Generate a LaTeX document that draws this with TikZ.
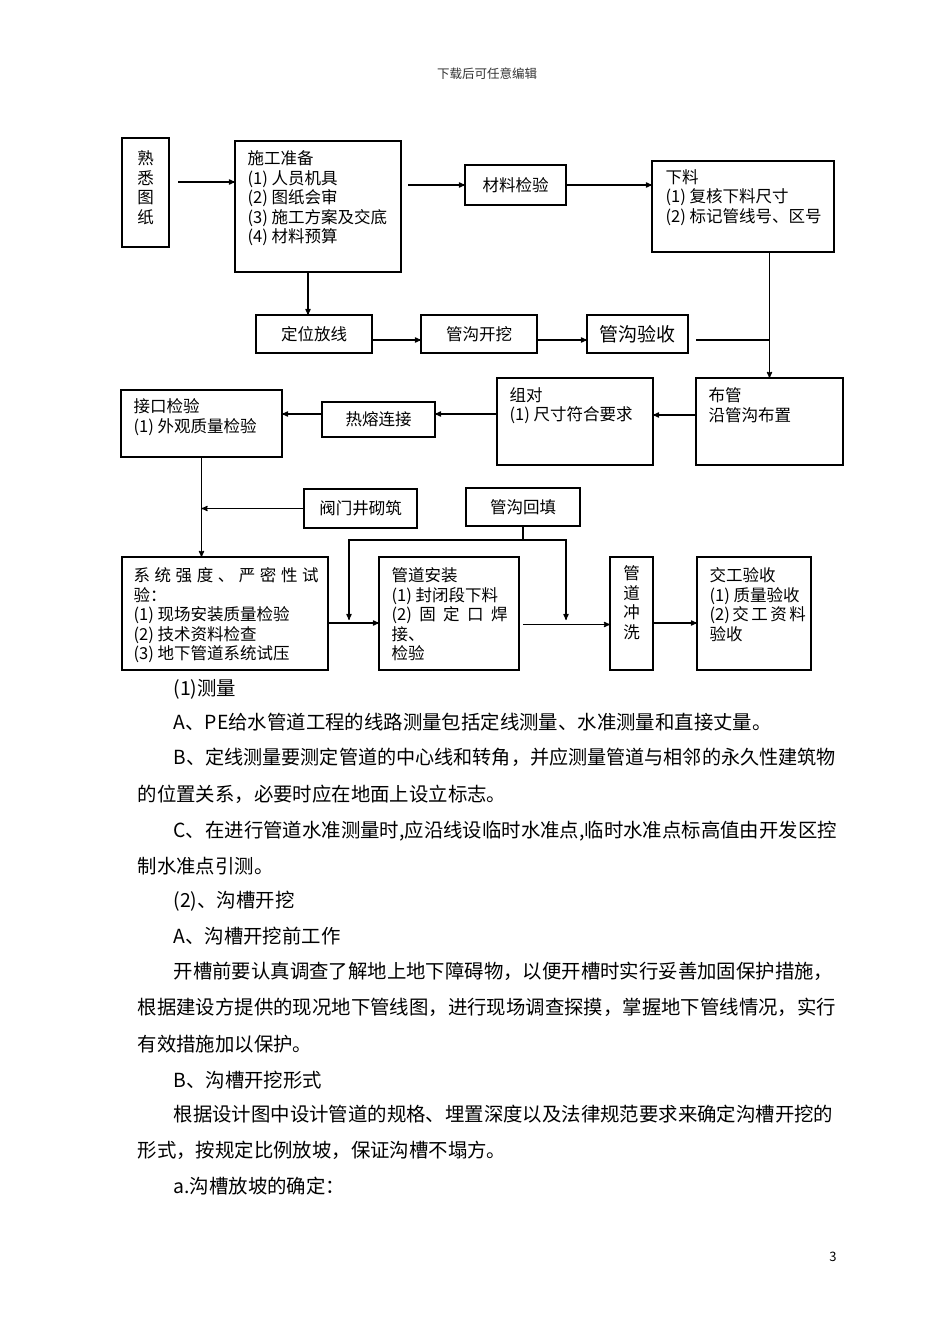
\documentclass[tikz,border=0pt]{standalone}
\usepackage{fontspec}
\usepackage{graphicx}
\setmainfont{Noto Sans CJK SC}
\usetikzlibrary{positioning,arrows}

\newcommand{\flowfont}{\fontsize{16.5}{19.5}\selectfont}
\newcommand{\bodyfont}{\fontsize{19.4}{24}\selectfont}

\begin{document}
\begin{tikzpicture}[x=1pt, y=-1pt, line width=1.2pt, >=stealth']
    \tikzstyle{box}=[draw, anchor=north west, inner sep=0pt, outer sep=0pt]
    \tikzstyle{boxtext}=[anchor=north west, inner sep=0pt, align=left, font=\flowfont]
    \tikzstyle{midtext}=[inner sep=0pt, font=\flowfont]
    \tikzstyle{edge}=[->]
    \tikzstyle{link}=[-]
    \tikzstyle{para}=[anchor=base west, inner sep=0pt, font=\bodyfont]

    \fill[white] (0,0) rectangle (950,1344);
    \useasboundingbox (0,0) rectangle (950,1344);

    \node[inner sep=0pt, font=\fontsize{12.5}{14}\selectfont, text=black!80] (header) at (487,74) {下载后可任意编辑};

    % first row
    \node[box, minimum width=47pt, minimum height=109pt] (read) at (122,138) {};
    \node[boxtext, anchor=north, align=center] (readtxt) at (145.5,150) {熟\\悉\\图\\纸};
    \node[box, minimum width=166pt, minimum height=131pt] (prep) at (235,141) {};
    \node[boxtext] (preptxt) at (247,150) {施工准备\\(1) 人员机具\\(2) 图纸会审\\(3) 施工方案及交底\\(4) 材料预算};
    \node[box, minimum width=101pt, minimum height=40pt] (matcheck) at (465,165) {};
    \node[midtext] (matchecktxt) at (matcheck.center) {材料检验};
    \node[box, minimum width=182pt, minimum height=91pt] (cut) at (652,161) {};
    \node[boxtext] (cuttxt) at (665,169) {下料\\(1) 复核下料尺寸\\(2) 标记管线号、区号};

    % second row
    \node[box, minimum width=116pt, minimum height=38pt] (layout) at (256,315) {};
    \node[midtext] (layouttxt) at (layout.center) {定位放线};
    \node[box, minimum width=116pt, minimum height=38pt] (dig) at (421,315) {};
    \node[midtext] (digtxt) at (dig.center) {管沟开挖};
    \node[box, minimum width=101pt, minimum height=38pt] (digcheck) at (587,315) {};
    \node[midtext, font=\fontsize{19}{22}\selectfont] (digchecktxt) at (digcheck.center) {管沟验收};

    % third row
    \node[box, minimum width=161pt, minimum height=67pt] (joint) at (121,390) {};
    \node[boxtext] (jointtxt) at (133,398) {接口检验\\(1) 外观质量检验};
    \node[box, minimum width=113pt, minimum height=35pt] (fuse) at (322,402) {};
    \node[midtext] (fusetxt) at (fuse.center) {热熔连接};
    \node[box, minimum width=156pt, minimum height=87pt] (pair) at (497,378) {};
    \node[boxtext] (pairtxt) at (509,387) {组对\\(1) 尺寸符合要求};
    \node[box, minimum width=147pt, minimum height=87pt] (lay) at (696,378) {};
    \node[boxtext] (laytxt) at (708,387) {布管\\沿管沟布置};

    % fourth row
    \node[box, minimum width=113pt, minimum height=39pt] (valve) at (304,489) {};
    \node[midtext] (valvetxt) at (valve.center) {阀门井砌筑};
    \node[box, minimum width=114pt, minimum height=38pt] (backfill) at (466,488) {};
    \node[midtext] (backfilltxt) at (backfill.center) {管沟回填};
    \node[box, minimum width=206pt, minimum height=113pt] (test) at (122,557) {};
    \node[boxtext] (testtxt) at (133,567) {\makebox[185pt][s]{系 统 强 度 、 严 密 性 试}\\验：\\(1) 现场安装质量检验\\(2) 技术资料检查\\(3) 地下管道系统试压};
    \node[box, minimum width=140pt, minimum height=113pt] (install) at (379,557) {};
    \node[boxtext] (installtxt) at (391,567) {管道安装\\(1) 封闭段下料\\\makebox[116pt][s]{(2) 固 定 口 焊}\\接、\\检验};
    \node[box, minimum width=43pt, minimum height=113pt] (flush) at (610,557) {};
    \node[boxtext, anchor=north, align=center] (flushtxt) at (631.5,565) {管\\道\\冲\\洗};
    \node[box, minimum width=114pt, minimum height=113pt] (accept) at (697,557) {};
    \node[boxtext] (accepttxt) at (709,567) {交工验收\\(1) 质量验收\\\makebox[88pt][s]{(2) 交 工 资 料}\\验收};

    \coordinate (fork) at (523,540);
    \coordinate (dropL) at (349,620);
    \coordinate (dropR) at (566,620);

    % connectors
    \draw[edge, shorten <=9pt] ([yshift=10.5pt]read.east) -- ([yshift=10.5pt]read.east -| prep.west);
    \draw[edge, shorten <=7pt] (matcheck.west -| prep.east) -- (matcheck.west);
    \draw[edge] (matcheck.east) -- (matcheck.east -| cut.west);
    \draw[edge] ([xshift=-6pt]layout.north |- prep.south) -- ([xshift=-6pt]layout.north);
    \draw[edge] ([yshift=-6pt]layout.east) -- ([yshift=-6pt]layout.east -| dig.west);
    \draw[edge] ([yshift=-6pt]dig.east) -- ([yshift=-6pt]dig.east -| digcheck.west);
    \draw[link, shorten <=8pt] ([yshift=-6pt]digcheck.east) -- ([yshift=-6pt]digcheck.east -| lay.north);
    \draw[edge] (cut.south -| lay.north) -- (lay.north);
    \draw[edge] ([yshift=6.5pt]lay.west) -- ([yshift=6.5pt]lay.west -| pair.east);
    \draw[edge] ([yshift=7.5pt]pair.west) -- ([yshift=7.5pt]pair.west -| fuse.east);
    \draw[edge] ([yshift=5.5pt]fuse.west) -- ([yshift=5.5pt]fuse.west -| joint.east);
    \draw[edge] (joint.south) -- (joint.south |- test.north);
    \draw[edge] (valve.west) -- (valve.west -| joint.south);
    \draw[link] (backfill.south) -- (fork);
    \draw[edge] (fork) -| (dropL);
    \draw[edge] (fork) -| (dropR);
    \draw[edge] ([yshift=-9.5pt]test.east) -- ([yshift=-9.5pt]test.east -| install.west);
    \draw[edge, shorten <=4pt] ([yshift=-11pt]install.east) -- ([yshift=-11pt]install.east -| flush.west);
    \draw[edge] ([yshift=-9.5pt]flush.east) -- ([yshift=-9.5pt]flush.east -| accept.west);

    % body text
    \node[para] (p1) at (173,695.5) {(1)测量};
    \node[para] (p2) at (173,729.5) {A、PE给水管道工程的线路测量包括定线测量、水准测量和直接丈量。};
    \node[para] (p3) at (173,764.5) {\scalebox{0.985}[1]{B、定线测量要测定管道的中心线和转角，并应测量管道与相邻的永久性建筑物}};
    \node[para] (p4) at (137,801.5) {的位置关系，必要时应在地面上设立标志。};
    \node[para] (p5) at (173,837.5) {C、在进行管道水准测量时,应沿线设临时水准点,临时水准点标高值由开发区控};
    \node[para] (p6) at (137,873.5) {制水准点引测。};
    \node[para] (p7) at (173,907.5) {(2)、沟槽开挖};
    \node[para] (p8) at (173,943.5) {A、沟槽开挖前工作};
    \node[para] (p9) at (173,978.5) {开槽前要认真调查了解地上地下障碍物，以便开槽时实行妥善加固保护措施，};
    \node[para] (p10) at (137,1014.5) {根据建设方提供的现况地下管线图，进行现场调查探摸，掌握地下管线情况，实行};
    \node[para] (p11) at (137,1051.5) {有效措施加以保护。};
    \node[para] (p12) at (173,1087.5) {B、沟槽开挖形式};
    \node[para] (p13) at (173,1121.5) {根据设计图中设计管道的规格、埋置深度以及法律规范要求来确定沟槽开挖的};
    \node[para] (p14) at (137,1157.5) {形式，按规定比例放坡，保证沟槽不塌方。};
    \node[para] (p15) at (173,1193.5) {a.沟槽放坡的确定：};

    \node[inner sep=0pt, font=\fontsize{13}{14}\selectfont] (pagenum) at (833,1257) {3};
\end{tikzpicture}
\end{document}
